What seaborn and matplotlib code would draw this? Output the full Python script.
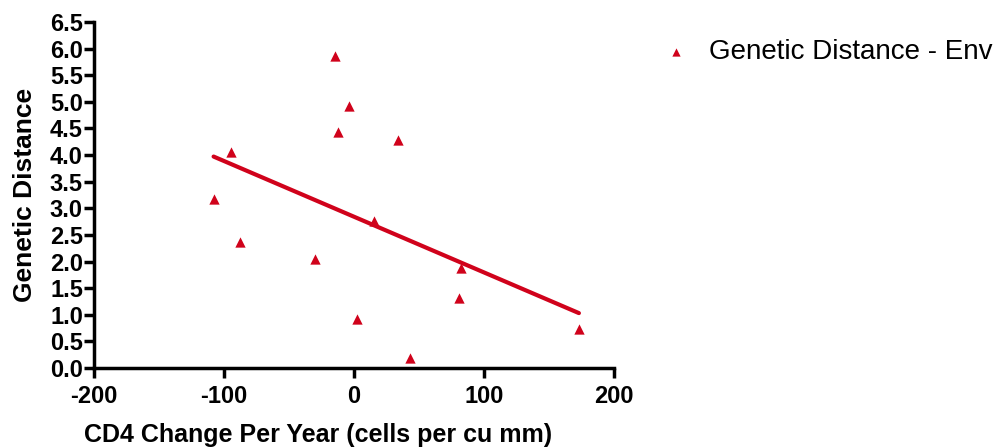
import matplotlib
matplotlib.use("Agg")
import matplotlib.pyplot as plt
import seaborn as sns
import pandas as pd

# CD4 change per year vs genetic distance (Env)
cd4_change = [-108, -95, -88, -30, -15, -12, -4, 2, 15, 34, 43, 81, 82, 173]
genetic_distance = [3.18, 4.06, 2.37, 2.05, 5.86, 4.44, 4.92, 0.92, 2.76, 4.29, 0.19, 1.32, 1.88, 0.73]
x_ticks = [-200, -100, 0, 100, 200]
y_ticks = [0.0, 0.5, 1.0, 1.5, 2.0, 2.5, 3.0, 3.5, 4.0, 4.5, 5.0, 5.5, 6.0, 6.5]
series_name = "Genetic Distance - Env"

df = pd.DataFrame({"cd4": cd4_change, "gd": genetic_distance})

sns.set_style("white")
plt.rcParams["font.family"] = ["Liberation Sans", "DejaVu Sans"]
plt.rcParams["text.color"] = "black"
plt.rcParams["axes.labelcolor"] = "black"
plt.rcParams["xtick.color"] = "black"
plt.rcParams["ytick.color"] = "black"

red = "#D0021B"

fig = plt.figure(figsize=(10.02, 4.47), dpi=100)
ax = fig.add_axes([94 / 1002, 1 - 368 / 447, 520 / 1002, 346 / 447])

sns.regplot(data=df, x="cd4", y="gd", ci=None, truncate=True, ax=ax,
            marker="^", color=red, label=series_name,
            scatter_kws={"s": 55, "linewidths": 0, "alpha": 1, "clip_on": False},
            line_kws={"linewidth": 3})

ax.set_xlim(-200, 200)
ax.set_ylim(0, 6.5)
ax.set_xticks(x_ticks)
ax.set_yticks(y_ticks)
ax.set_xticklabels([str(t) for t in x_ticks], fontsize=17, fontweight="bold")
ax.set_yticklabels([f"{t:.1f}" for t in y_ticks], fontsize=17, fontweight="bold")
ax.tick_params(axis="x", direction="out", length=7, width=2.5, pad=5, bottom=True)
ax.tick_params(axis="y", direction="out", length=7, width=2.5, pad=1, left=True)
for side in ["top", "right"]:
    ax.spines[side].set_visible(False)
for side in ["left", "bottom"]:
    ax.spines[side].set_linewidth(2.5)
    ax.spines[side].set_color("black")

ax.set_xlabel("CD4 Change Per Year (cells per cu mm)", fontsize=18, fontweight="bold")
ax.set_ylabel("Genetic Distance", fontsize=19, fontweight="bold")
ax.xaxis.set_label_coords(0.43, -0.16)
ax.yaxis.set_label_coords(-0.11, 0.5)

handles, labels = ax.get_legend_handles_labels()
fig.legend(handles[:1], labels[:1], loc="upper left", bbox_to_anchor=(637 / 1002, 1 - 14 / 447),
           frameon=False, fontsize=20, markerscale=0.8, handlelength=1.0, handletextpad=0.7)

fig.savefig("out.png", dpi=100)
